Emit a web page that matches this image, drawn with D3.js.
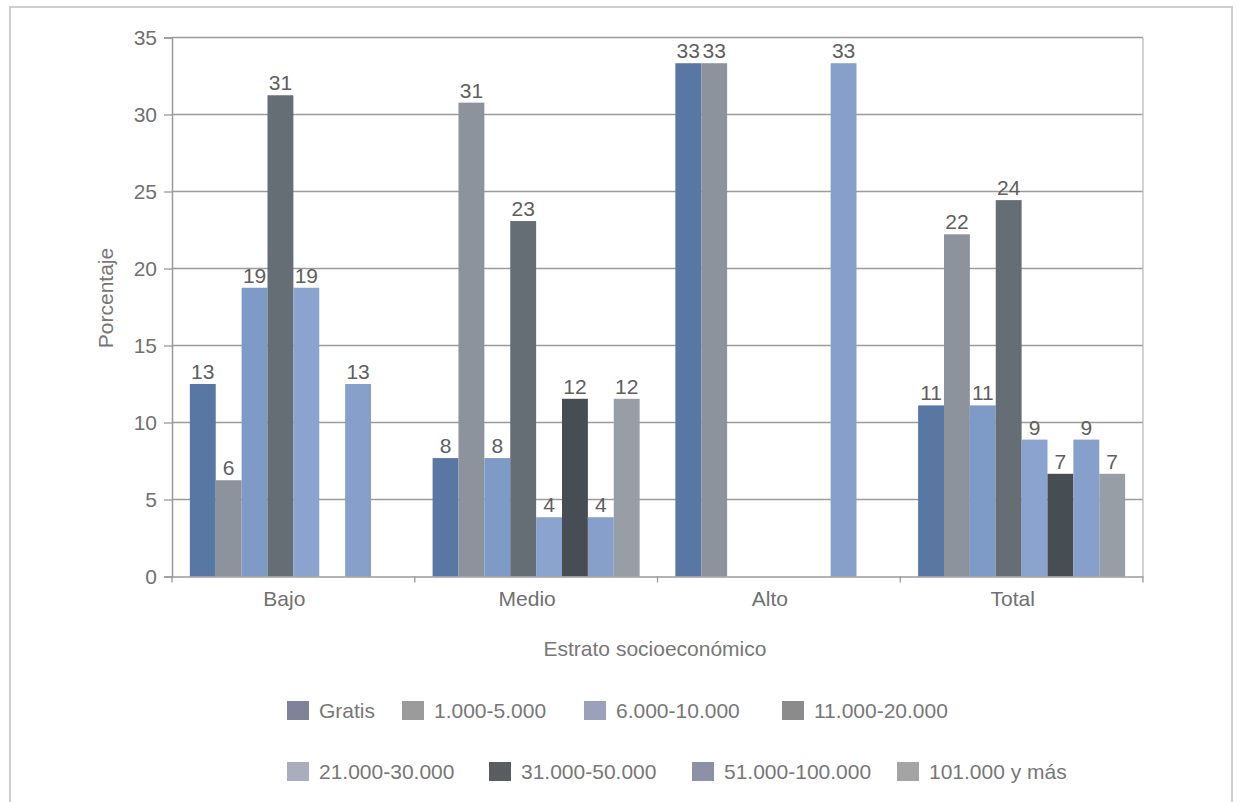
<!DOCTYPE html>
<html>
<head>
<meta charset="utf-8">
<script src="https://cdn.jsdelivr.net/npm/d3@7/dist/d3.min.js"></script>
<style>
  html, body { margin: 0; padding: 0; background: #ffffff; }
  svg { display: block; }
  text { font-family: "Liberation Sans", Arial, Helvetica, sans-serif; fill: #6e6e6e; }
</style>
</head>
<body>
<svg id="chart" width="1238" height="802"></svg>
<script>
// ---------- DATA ----------
const categories = ["Bajo", "Medio", "Alto", "Total"];
const seriesNames = ["Gratis", "1.000-5.000", "6.000-10.000", "11.000-20.000",
                     "21.000-30.000", "31.000-50.000", "51.000-100.000", "101.000 y más"];
const gratis   = [12.5, 7.69, 33.33, 11.11];
const s1000    = [6.25, 30.77, 33.33, 22.22];
const s6000    = [18.75, 7.69, 0, 11.11];
const s11000   = [31.25, 23.08, 0, 24.44];
const s21000   = [18.75, 3.85, 0, 8.89];
const s31000   = [0, 11.54, 0, 6.67];
const s51000   = [12.5, 3.85, 33.33, 8.89];
const s101000  = [0, 11.54, 0, 6.67];
const yTicks = [0, 5, 10, 15, 20, 25, 30, 35];
const yTitle = "Porcentaje";
const xTitle = "Estrato socioeconómico";

const seriesValues = [gratis, s1000, s6000, s11000, s21000, s31000, s51000, s101000];

// ---------- STYLE ----------
const barColors = ["#5878a3", "#8c939c", "#7e9ac6", "#656d75",
                   "#8aa3cf", "#464e54", "#87a0cb", "#989ea5"];
const legendColors = ["#7e8399", "#9b9b9b", "#9ba1bb", "#8b8b8b",
                      "#a8aebd", "#5a5d60", "#8c91a8", "#a4a4a4"];

const svg = d3.select("#chart");

// outer frame
svg.append("rect")
  .attr("x", 10).attr("y", 7).attr("width", 1222).attr("height", 810)
  .attr("fill", "none").attr("stroke", "#cfcfcf").attr("stroke-width", 2);

const plot = { left: 172, right: 1143, top: 37.5, bottom: 576.5 };

const x0 = d3.scaleBand().domain(categories).range([plot.left, plot.right]).padding(0);
const x1 = d3.scaleBand().domain(seriesNames).range([0, x0.bandwidth()])
  .paddingInner(0).paddingOuter(0.69);
const y = d3.scaleLinear().domain([0, 35]).range([plot.bottom, plot.top]);

// gridlines
svg.append("g").selectAll("line").data(yTicks.filter(d => d > 0)).join("line")
  .attr("x1", plot.left).attr("x2", plot.right)
  .attr("y1", d => y(d)).attr("y2", d => y(d))
  .attr("stroke", "#9c9c9c").attr("stroke-width", 1.3);

// right border of plot
svg.append("line")
  .attr("x1", plot.right).attr("x2", plot.right)
  .attr("y1", plot.top).attr("y2", plot.bottom)
  .attr("stroke", "#c4c4c4").attr("stroke-width", 1.5);

// bars
const barData = [];
categories.forEach((c, ci) => {
  seriesNames.forEach((s, si) => {
    barData.push({ cat: c, series: s, si: si, value: seriesValues[si][ci] });
  });
});

svg.append("g").selectAll("rect").data(barData.filter(d => d.value > 0)).join("rect")
  .attr("x", d => x0(d.cat) + x1(d.series))
  .attr("y", d => y(d.value))
  .attr("width", x1.bandwidth())
  .attr("height", d => y(0) - y(d.value))
  .attr("fill", d => barColors[d.si]);

// data labels
svg.append("g").selectAll("text").data(barData.filter(d => d.value > 0)).join("text")
  .attr("x", d => x0(d.cat) + x1(d.series) + x1.bandwidth() / 2)
  .attr("y", d => y(d.value) - 5)
  .attr("text-anchor", "middle")
  .style("font-size", "21px")
  .style("fill", "#5e5e5e")
  .text(d => Math.round(d.value));

// y axis
const yAxis = d3.axisLeft(y).tickValues(yTicks).tickSize(8).tickPadding(7).tickFormat(d3.format("d"));
const gy = svg.append("g").attr("transform", `translate(${plot.left},0)`).call(yAxis);
gy.select(".domain").attr("stroke", "#9a9a9a").attr("stroke-width", 1.5);
gy.selectAll(".tick line").attr("stroke", "#9a9a9a").attr("stroke-width", 1.3);
gy.selectAll(".tick text").style("font-size", "21px").style("fill", "#707070")
  .style("font-family", "'Liberation Sans', Arial, sans-serif");

// x axis
const xAxis = d3.axisBottom(x0).tickSize(0).tickPadding(15);
const gx = svg.append("g").attr("transform", `translate(0,${plot.bottom})`).call(xAxis);
gx.select(".domain").attr("stroke", "#9a9a9a").attr("stroke-width", 1.5);
gx.selectAll(".tick text").style("font-size", "21px").style("fill", "#707070")
  .style("font-family", "'Liberation Sans', Arial, sans-serif")
  .attr("dx", -9);
// category boundary ticks
const bounds = categories.map(c => x0(c)).concat([plot.right]);
svg.append("g").selectAll("line").data(bounds).join("line")
  .attr("x1", d => d).attr("x2", d => d)
  .attr("y1", plot.bottom).attr("y2", plot.bottom + 6)
  .attr("stroke", "#9a9a9a").attr("stroke-width", 1.3);

// axis titles
svg.append("text")
  .attr("transform", "translate(113,298) rotate(-90)")
  .attr("text-anchor", "middle")
  .style("font-size", "21px").style("fill", "#777")
  .text(yTitle);

svg.append("text")
  .attr("x", 655).attr("y", 656)
  .attr("text-anchor", "middle")
  .style("font-size", "21px").style("fill", "#777")
  .text(xTitle);

// legend
const legendLayout = [
  { sx: 287, row: 0 }, { sx: 402, row: 0 }, { sx: 584, row: 0 }, { sx: 782, row: 0 },
  { sx: 287, row: 1 }, { sx: 489, row: 1 }, { sx: 692, row: 1 }, { sx: 897, row: 1 }
];
const rowY = [711, 772];
const lg = svg.append("g").selectAll("g").data(seriesNames).join("g")
  .attr("transform", (d, i) => `translate(${legendLayout[i].sx},${rowY[legendLayout[i].row]})`);
lg.append("rect")
  .attr("x", 0).attr("y", -10).attr("width", 22).attr("height", 19)
  .attr("fill", (d, i) => legendColors[i]);
lg.append("text")
  .attr("x", 32).attr("y", 7)
  .style("font-size", "21px").style("fill", "#777")
  .text(d => d);
</script>
</body>
</html>
